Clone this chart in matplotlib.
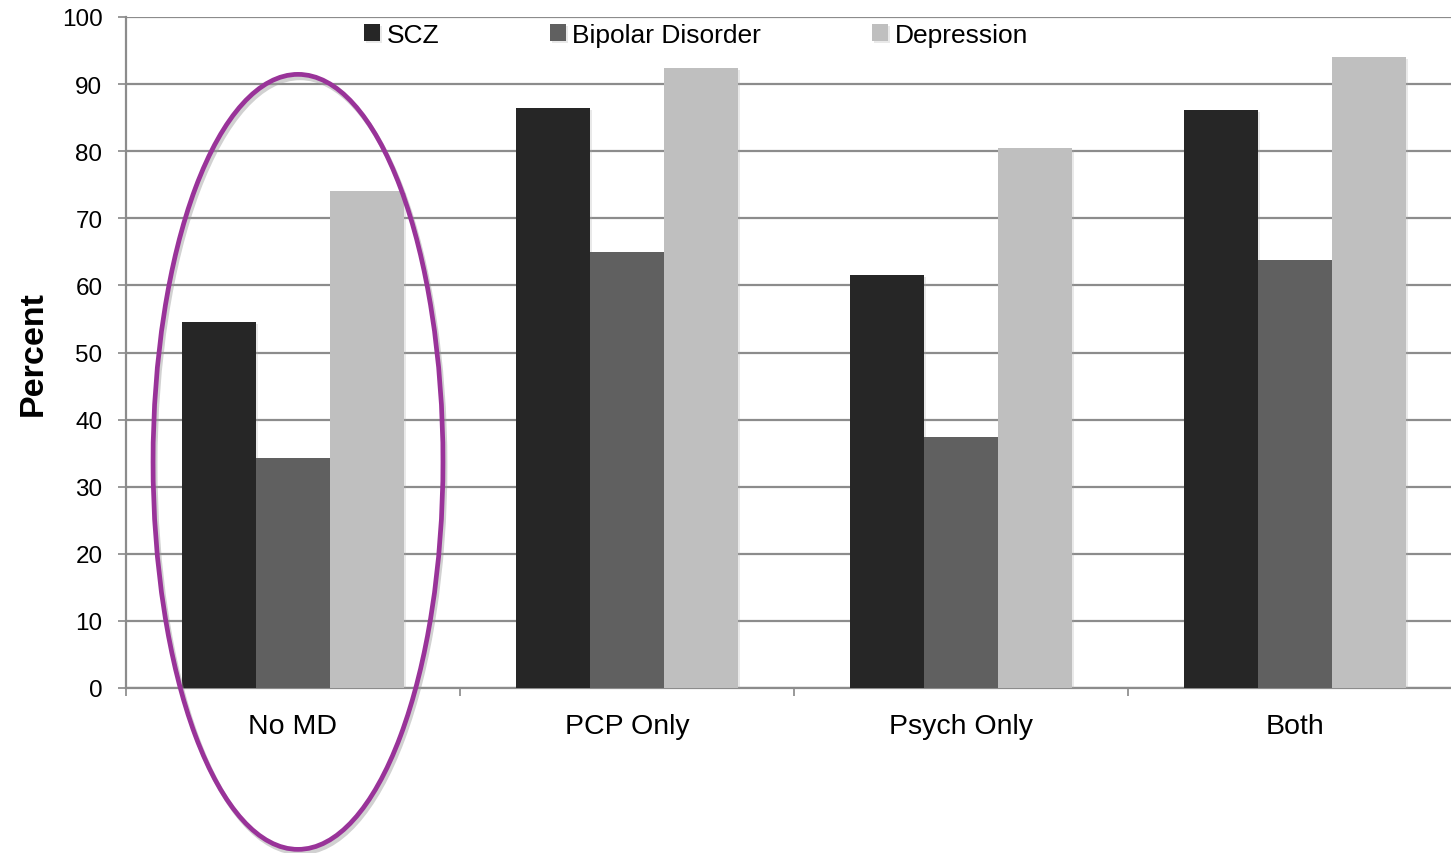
import matplotlib
matplotlib.use("Agg")
import matplotlib.pyplot as plt
import matplotlib.patheffects as pe
from matplotlib.patches import Ellipse
import numpy as np

plt.rcParams['font.family'] = ['Liberation Sans', 'DejaVu Sans']

# Percent of patients per provider type
groups = ["No MD", "PCP Only", "Psych Only", "Both"]
scz = [54.5, 86.4, 61.5, 86.1]
bipolar = [34.3, 65.0, 37.4, 63.8]
depression = [74.1, 92.4, 80.5, 94.0]

series_names = ["SCZ", "Bipolar Disorder", "Depression"]
series_colors = ["#262626", "#606060", "#bfbfbf"]

W, H = 1451, 854
fig = plt.figure(figsize=(W / 100, H / 100), dpi=100)
# axes runs a bit past the right edge, like the original slide
ax = fig.add_axes([126 / W, (H - 689) / H, (1462 - 126) / W, 671 / H])

x = np.arange(len(groups))
bw = 0.2216
shadow = [pe.SimplePatchShadow(offset=(1.5, -1.5), shadow_rgbFace="#aaaaaa", alpha=0.25), pe.Normal()]
for i, vals in enumerate([scz, bipolar, depression]):
    bars = ax.bar(x + (i - 1) * bw, vals, bw, color=series_colors[i],
                  label=series_names[i], zorder=3)
    for b in bars:
        b.set_path_effects(shadow)

ax.set_xlim(-0.5, 3.5)
ax.set_ylim(0, 100)
ax.set_yticks(range(0, 101, 10))
ax.set_xticks(x)
ax.set_xticklabels(groups, fontsize=20.5)
ax.set_xticks(np.arange(-0.5, 4, 1), minor=True)
ax.tick_params(axis="x", which="major", length=0, pad=18)
ax.tick_params(axis="x", which="minor", length=6, width=1.2, color="#888888", direction="out")
ax.tick_params(axis="y", length=6, width=1.2, color="#888888", labelsize=17.5, pad=11)

ax.yaxis.grid(True, color="#8c8c8c", linewidth=1.6, zorder=0)
ax.set_axisbelow(True)
for side in ["top", "right"]:
    ax.spines[side].set_visible(False)
for side in ["left", "bottom"]:
    ax.spines[side].set_color("#8c8c8c")
    ax.spines[side].set_linewidth(1.6)

ax.set_ylabel("Percent", fontsize=24.5, fontweight="bold", labelpad=9)

leg = ax.legend(loc="upper left", bbox_to_anchor=(364 / W, 1 - 24 / H),
                bbox_transform=fig.transFigure, ncol=3, frameon=False,
                fontsize=19, handlelength=0.6, handleheight=0.6,
                handletextpad=0.25, columnspacing=4.2, borderpad=0, borderaxespad=0)

# highlight around the first group
ring = Ellipse((0.015, 33.7), 0.868, 115.5, fill=False, edgecolor="#993399",
               linewidth=3.4, clip_on=False, zorder=5)
ring.set_path_effects([pe.SimpleLineShadow(offset=(1.5, -2.5), shadow_color="#999999", alpha=0.45),
                       pe.Normal()])
ax.add_patch(ring)

fig.savefig("out.png", dpi=100)
